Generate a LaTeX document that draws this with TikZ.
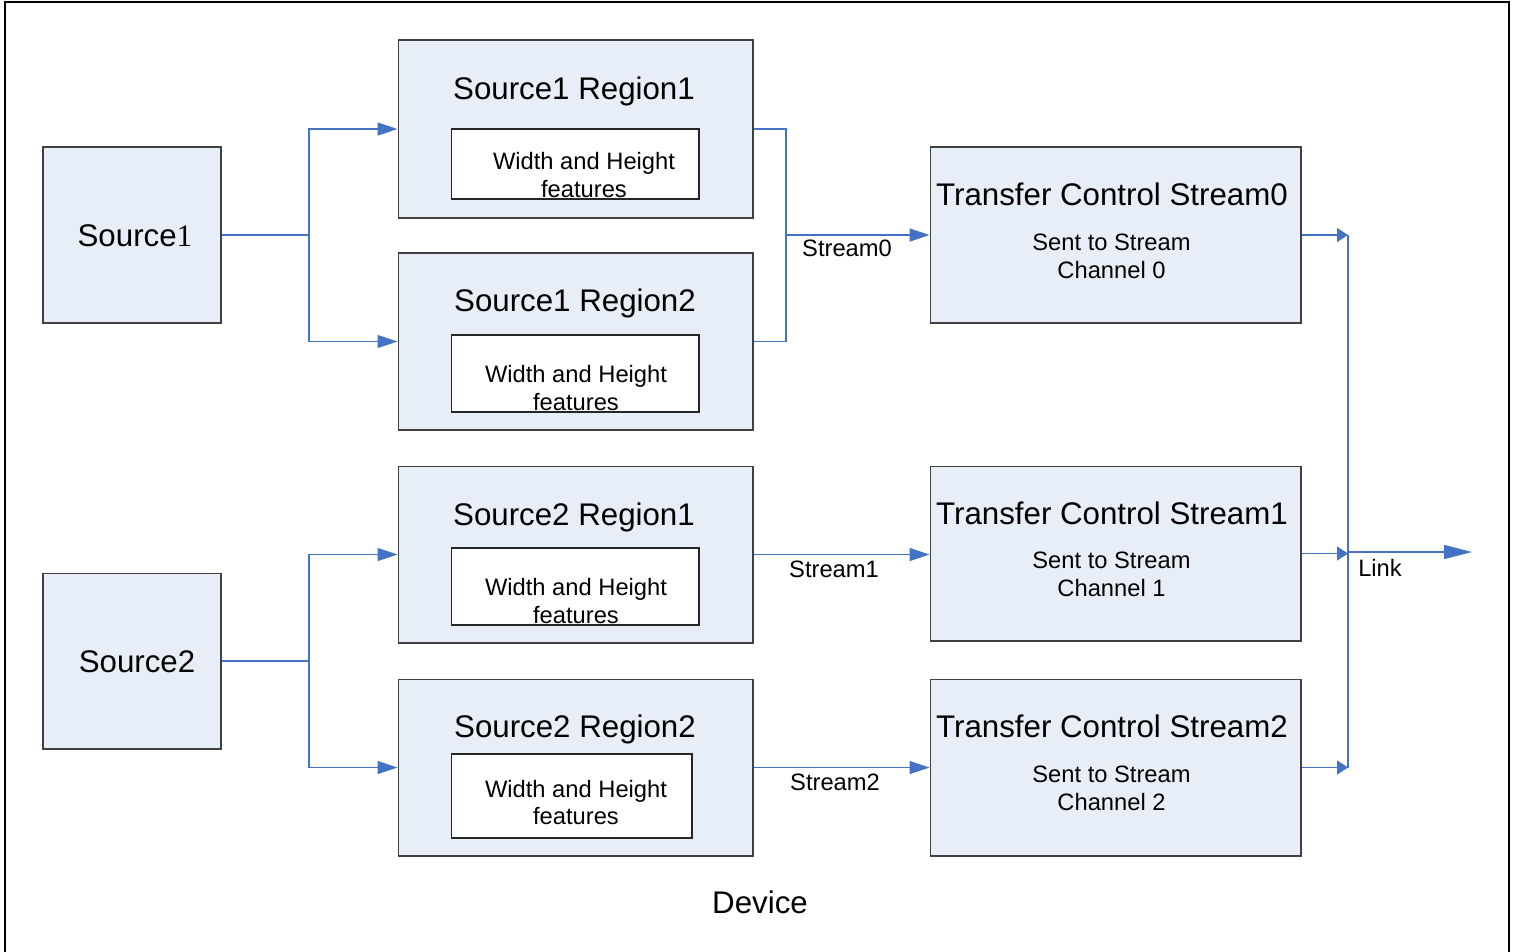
\documentclass[tikz,border=0pt]{standalone}
\usepackage{fontspec}
\setmainfont{Liberation Sans}
\newfontfamily\numfont{Liberation Serif}
\usetikzlibrary{arrows.meta,calc}
\definecolor{wireblue}{RGB}{68,114,196}
\definecolor{boxfill}{RGB}{232,238,247}
\tikzset{
	blockbox/.style={draw=black!75, fill=boxfill, line width=0.6pt, inner sep=0pt},
	featbox/.style={draw=black!85, fill=white, line width=0.6pt, inner sep=0pt},
	bigtext/.style={font=\fontsize{17.8}{21}\selectfont, inner sep=0pt},
	smalltext/.style={font=\fontsize{13.5}{15.9}\selectfont, align=center, inner sep=0pt},
	wire/.style={draw=wireblue, line width=0.7pt},
	tip/.style={-{Triangle[length=0.4cm,width=0.26cm]}},
	smalltip/.style={-{Triangle[length=0.22cm,width=0.28cm]}},
	bigtip/.style={-{Triangle[length=0.56cm,width=0.28cm]}},
}
\begin{document}
\begin{tikzpicture}[x=0.02cm, y=-0.02cm]
	%%%%% FRAME %%%%%
	\useasboundingbox (0, 0) rectangle (1515, 951);
	\draw[line width=1.1pt] (5, 2) rectangle (1509, 965);
	
	%%%%% SOURCES %%%%%
	\node[blockbox, minimum width=3.56cm, minimum height=3.52cm] (src1) at (132, 235) {};
	\node[bigtext] at (135, 236) {Source{\numfont 1}};
	\node[blockbox, minimum width=3.56cm, minimum height=3.52cm] (src2) at (132, 661) {};
	\node[bigtext] at (137, 662) {Source2};
	
	%%%%% REGIONS %%%%%
	\node[blockbox, minimum width=7.1cm, minimum height=3.56cm] (reg11) at (575.5, 129) {};
	\node[bigtext] at (574, 91) {Source1 Region1};
	\node[featbox, minimum width=4.96cm, minimum height=1.4cm] (feat11) at (575, 164) {};
	\node[smalltext] at (584, 175) {Width and Height\\features};
	
	\node[blockbox, minimum width=7.1cm, minimum height=3.54cm] (reg12) at (575.5, 341.5) {};
	\node[bigtext] at (575, 303) {Source1 Region2};
	\node[featbox, minimum width=4.96cm, minimum height=1.54cm] (feat12) at (575, 373.5) {};
	\node[smalltext] at (576, 388) {Width and Height\\features};
	
	\node[blockbox, minimum width=7.1cm, minimum height=3.54cm] (reg21) at (575.5, 554.5) {};
	\node[bigtext] at (574, 517) {Source2 Region1};
	\node[featbox, minimum width=4.96cm, minimum height=1.54cm] (feat21) at (575, 586.5) {};
	\node[smalltext] at (576, 601) {Width and Height\\features};
	
	\node[blockbox, minimum width=7.1cm, minimum height=3.54cm] (reg22) at (575.5, 767.5) {};
	\node[bigtext] at (575, 729) {Source2 Region2};
	\node[featbox, minimum width=4.82cm, minimum height=1.68cm] (feat22) at (571.5, 796) {};
	\node[smalltext] at (576, 802.5) {Width and Height\\features};
	
	%%%%% TRANSFER CONTROL %%%%%
	\node[blockbox, minimum width=7.42cm, minimum height=3.52cm] (tcs0) at (1115.5, 235) {};
	\node[bigtext] at (1112, 194) {Transfer Control Stream0};
	\node[smalltext] at (1111.5, 256.5) {Sent to Stream\\Channel 0};
	
	\node[blockbox, minimum width=7.42cm, minimum height=3.5cm] (tcs1) at (1115.5, 553.5) {};
	\node[bigtext] at (1112, 513) {Transfer Control Stream1};
	\node[smalltext] at (1111.5, 574.5) {Sent to Stream\\Channel 1};
	
	\node[blockbox, minimum width=7.42cm, minimum height=3.54cm] (tcs2) at (1115.5, 767.5) {};
	\node[bigtext] at (1112, 726) {Transfer Control Stream2};
	\node[smalltext] at (1111.5, 788.5) {Sent to Stream\\Channel 2};
	
	%%%%% WIRES %%%%%
	\coordinate (split1) at (309, 235);
	\coordinate (split2) at (309, 661);
	\coordinate (merge0) at (786, 235);
	\coordinate (bus) at (1348, 552);
	\coordinate (out) at (1472, 552);
	
	\draw[wire] (src1.east) -- (split1);
	\draw[wire, tip] (split1) |- (reg11.west);
	\draw[wire, tip] (split1) |- (reg12.west);
	\draw[wire] (src2.east) -- (split2);
	\draw[wire, tip] (split2) |- (reg21.west);
	\draw[wire, tip] (split2) |- (reg22.west);
	
	\draw[wire] (reg11.east) -| (merge0) |- (reg12.east);
	\draw[wire, tip] (merge0) -- (tcs0.west);
	\node[smalltext] (lab0) at (847, 248) {Stream0};
	\draw[wire, tip] (reg21.east) -- (reg21.east -| tcs1.west);
	\node[smalltext] (lab1) at (834, 569) {Stream1};
	\draw[wire, tip] (reg22.east) -- (tcs2.west);
	\node[smalltext] (lab2) at (835, 782) {Stream2};
	
	\draw[wire, smalltip] (tcs0.east) -- (tcs0.east -| bus);
	\draw[wire, smalltip] (tcs1.east) -- (tcs1.east -| bus);
	\draw[wire, smalltip] (tcs2.east) -- (tcs2.east -| bus);
	\draw[wire, line width=1.1pt] (tcs0.east -| bus) -- (tcs2.east -| bus);
	\draw[wire, bigtip] (bus) -- (out);
	\node[smalltext] (lablink) at (1380, 568) {Link};
	
	\node[bigtext] (device) at (760, 902) {Device};
\end{tikzpicture}
\end{document}
